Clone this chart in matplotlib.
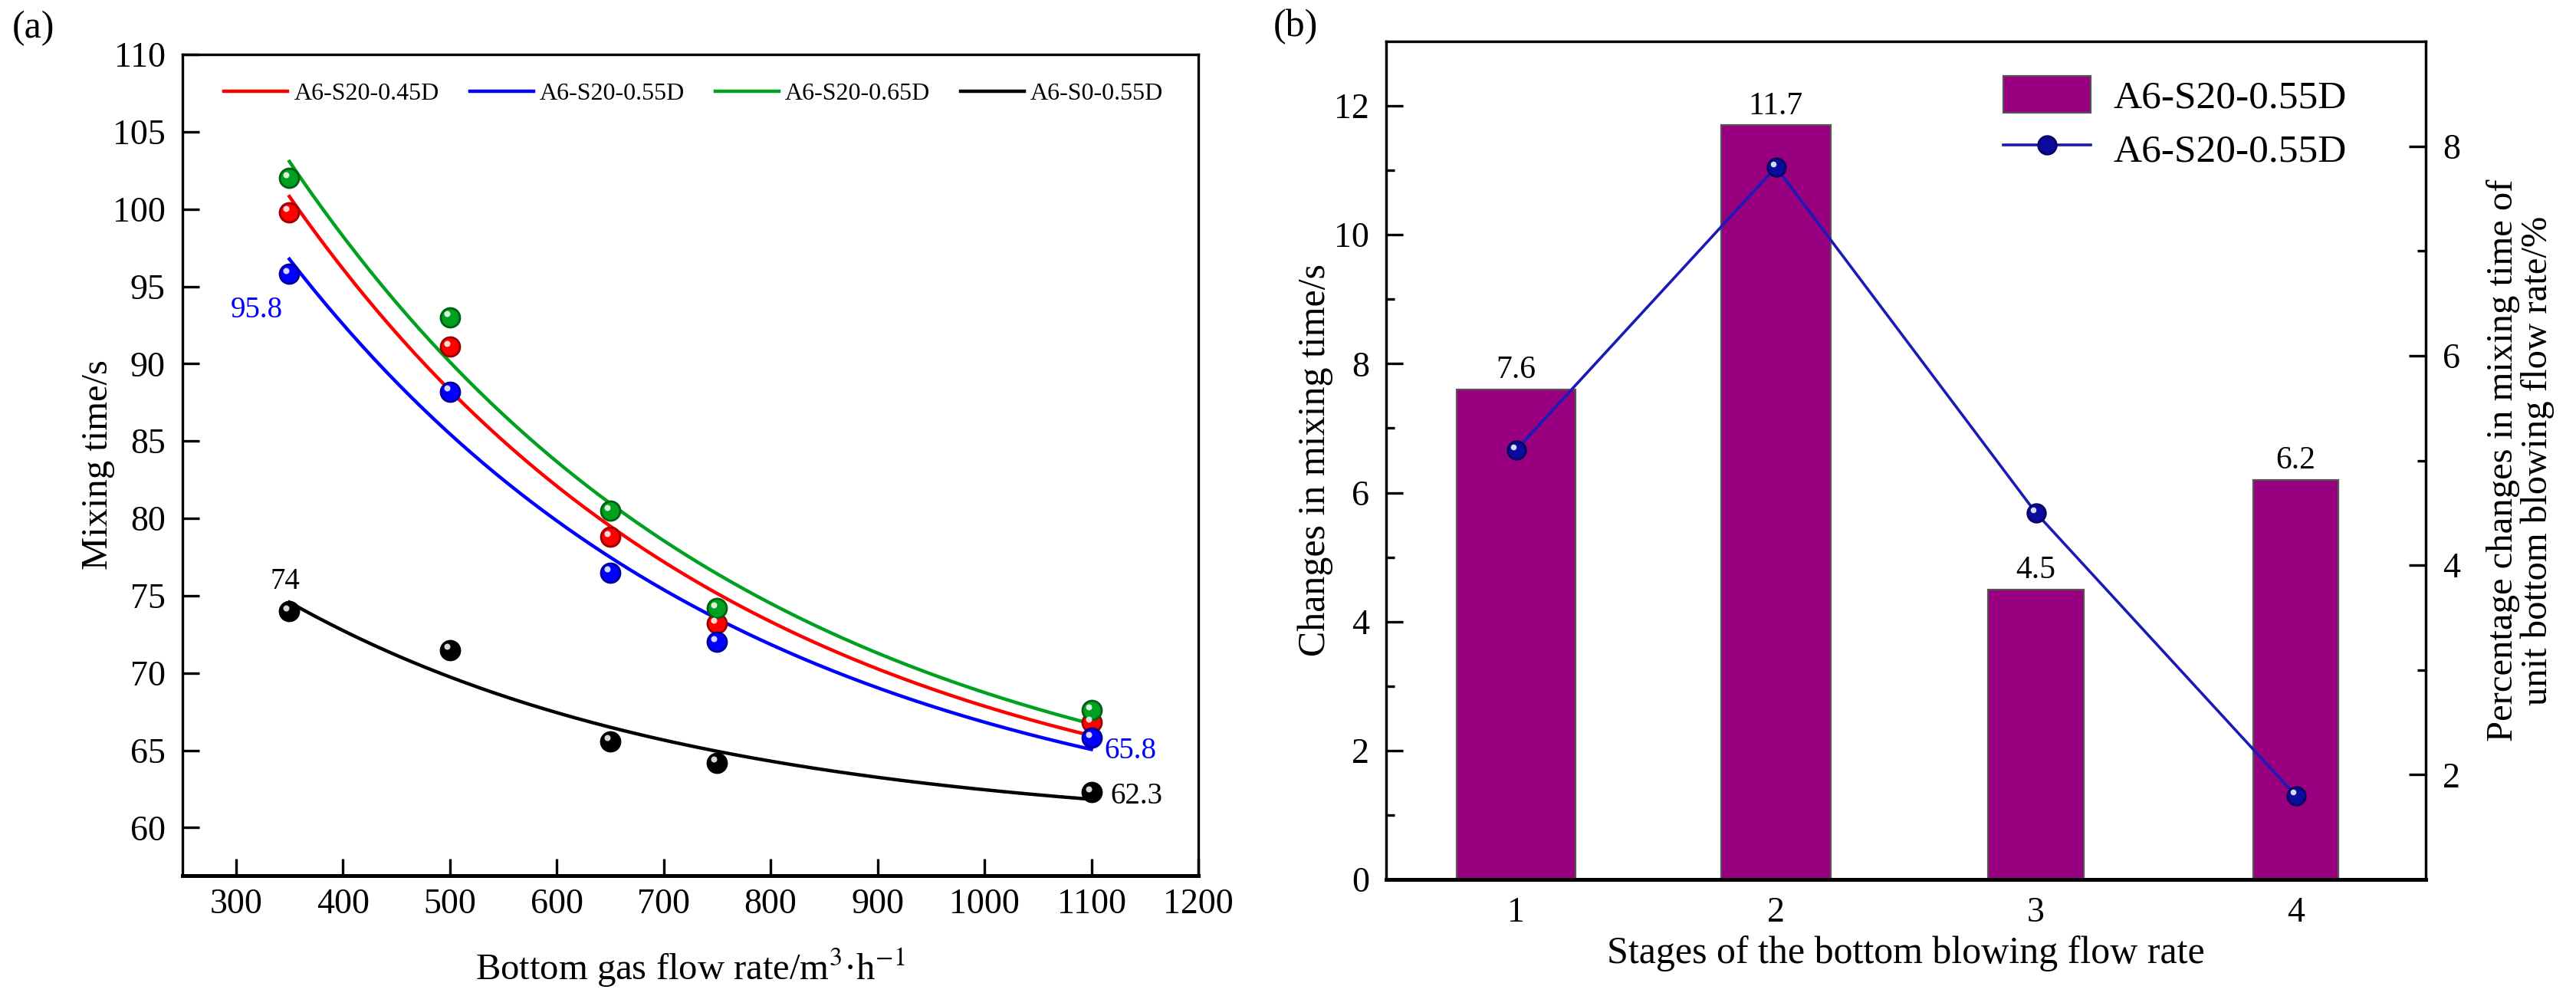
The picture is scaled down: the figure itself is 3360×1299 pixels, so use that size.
import numpy as np
import matplotlib
matplotlib.use("Agg")
import matplotlib.pyplot as plt
import matplotlib.transforms as mtransforms
from matplotlib.lines import Line2D
from matplotlib.patches import Patch

plt.rcParams['font.family'] = ['Liberation Serif', 'DejaVu Serif']
plt.rcParams['mathtext.fontset'] = 'stix'

# (a) mixing time vs bottom gas flow rate
flow_rate = [350, 500, 650, 750, 1100]
series_names = ['A6-S20-0.45D', 'A6-S20-0.55D', 'A6-S20-0.65D', 'A6-S0-0.55D']
mix_045 = [99.8, 91.1, 78.8, 73.2, 66.8]
mix_055 = [95.8, 88.2, 76.5, 72.0, 65.8]
mix_065 = [102.0, 93.0, 80.5, 74.2, 67.6]
mix_s0 = [74.0, 71.5, 65.6, 64.2, 62.3]

# (b) changes per stage
stages = [1, 2, 3, 4]
change_time = [7.6, 11.7, 4.5, 6.2]
change_pct = [5.1, 7.8, 4.5, 1.8]


def exp_fit(x, y):
    # y = y0 + A*exp(-x/t), grid over t, linear lstsq for y0, A
    x = np.asarray(x, float)
    y = np.asarray(y, float)
    best = None
    for t in np.linspace(50, 5000, 2000):
        M = np.column_stack([np.ones_like(x), np.exp(-x / t)])
        coef, *_ = np.linalg.lstsq(M, y, rcond=None)
        sse = np.sum((M @ coef - y) ** 2)
        if best is None or sse < best[0]:
            best = (sse, t, coef)
    _, t, (y0, A) = best
    xs = np.linspace(x.min(), x.max(), 200)
    return xs, y0 + A * np.exp(-xs / t)


def darker(c, f=0.6):
    r, g, b = matplotlib.colors.to_rgb(c)
    return (r * f, g * f, b * f)


def balls(ax, x, y, color, ms, zorder=4):
    ax.plot(x, y, 'o', ms=ms, mfc=color, mec=darker(color), mew=1.0,
            ls='none', zorder=zorder)
    hl = mtransforms.offset_copy(ax.transData, fig=ax.figure,
                                 x=-ms * 0.16, y=ms * 0.18, units='points')
    ax.plot(x, y, 'o', ms=ms * 0.32, mfc='white', mec='none', alpha=0.85,
            ls='none', zorder=zorder + 0.1, transform=hl)


fig = plt.figure(figsize=(16.8, 6.495), dpi=200)
W, H = 3360, 1299

# ---------------- (a) ----------------
ax = fig.add_axes([238 / W, 1 - 1142 / H, (1563 - 238) / W, (1142 - 71) / H])
colors = ['#ff0000', '#0000ff', '#00a020', '#000000']
for ys, c, name in zip([mix_045, mix_055, mix_065, mix_s0], colors, series_names):
    xs, yf = exp_fit(flow_rate, ys)
    ax.plot(xs, yf, color=c, lw=1.6, label=name, zorder=3)
    balls(ax, flow_rate, ys, c, 9)

ax.set_xlim(250, 1200)
ax.set_ylim(56.9, 110)
ax.set_xticks(np.arange(300, 1201, 100))
ax.set_yticks(np.arange(60, 111, 5))
ax.tick_params(direction='in', length=8, width=1.2, labelsize=16.5, pad=8)
ax.tick_params(axis='x', pad=6)
for s in ax.spines.values():
    s.set_linewidth(1.2)
ax.spines['bottom'].set_linewidth(1.8)

ax.set_xlabel('Bottom gas flow rate/m$^{3}$·h$^{-1}$', fontsize=17.5)
ax.set_ylabel('Mixing time/s', fontsize=17.5)
ax.xaxis.set_label_coords(0.5, -0.112)
ax.xaxis.label.set_va('center')
ax.yaxis.set_label_coords(-0.083, 0.5)
ax.yaxis.label.set_va('center')

ax.annotate('95.8', (flow_rate[0], mix_055[0]), xytext=(-3, -17),
            textcoords='offset points', ha='right', va='center',
            color='#0000ff', fontsize=14)
ax.annotate('74', (flow_rate[0], mix_s0[0]), xytext=(-2, 14),
            textcoords='offset points', ha='center', va='center',
            fontsize=14)
ax.annotate('65.8', (flow_rate[-1], mix_055[-1]), xytext=(6, -6),
            textcoords='offset points', ha='left', va='center',
            color='#0000ff', fontsize=14)
ax.annotate('62.3', (flow_rate[-1], mix_s0[-1]), xytext=(9, -2),
            textcoords='offset points', ha='left', va='center',
            fontsize=14)

ax.legend(loc='center left', bbox_to_anchor=(0.041, 1 - 0.048), ncol=4,
          frameon=False, fontsize=11.5, handlelength=2.6,
          handletextpad=0.25, columnspacing=1.25, borderpad=0,
          borderaxespad=0)

fig.text(43 / W, 1 - 37 / H, '(a)', fontsize=18, ha='center', va='center')

# ---------------- (b) ----------------
bx = fig.add_axes([1808 / W, 1 - 1147 / H, (3164 - 1808) / W, (1147 - 54) / H])
bar_color = '#990080'
bar_widths = [0.46, 0.42, 0.37, 0.33]
bx.bar(stages, change_time, width=bar_widths, color=bar_color,
       edgecolor='#555555', lw=0.8, zorder=2)
for xi, v in zip(stages, change_time):
    bx.annotate(f'{v}', (xi, v), xytext=(0, 2), textcoords='offset points',
                ha='center', va='bottom', fontsize=15)
bx.set_xlim(0.5, 4.5)
bx.set_ylim(0, 13)
bx.set_xticks(stages)
bx.set_yticks(np.arange(0, 13, 2))
bx.set_yticks(np.arange(1, 13, 2), minor=True)
bx.tick_params(axis='y', which='major', direction='in', length=8, width=1.2,
               labelsize=16.5, pad=8)
bx.tick_params(axis='y', which='minor', direction='in', length=4, width=1.2)
bx.tick_params(axis='x', length=0, labelsize=16.5, pad=8)
for s in bx.spines.values():
    s.set_linewidth(1.2)
bx.spines['bottom'].set_linewidth(1.8)
bx.set_xlabel('Stages of the bottom blowing flow rate', fontsize=18)
bx.set_ylabel('Changes in mixing time/s', fontsize=18)
bx.xaxis.set_label_coords(0.5, -0.088)
bx.xaxis.label.set_va('center')
bx.yaxis.set_label_coords(-0.068, 0.5)
bx.yaxis.label.set_va('center')

bx2 = bx.twinx()
line_color = '#1a1ab8'
ball_color = '#0b0b9e'
bx2.plot(stages, change_pct, color=line_color, lw=1.3, zorder=3)
balls(bx2, stages, change_pct, ball_color, 8.5)
bx2.set_ylim(1, 9)
bx2.set_yticks([2, 4, 6, 8])
bx2.set_yticks([3, 5, 7], minor=True)
bx2.tick_params(axis='y', which='major', direction='in', length=8, width=1.2,
                labelsize=16.5, pad=8)
bx2.tick_params(axis='y', which='minor', direction='in', length=4, width=1.2)
bx2.set_ylabel('Percentage changes in mixing time of\nunit bottom blowing flow rate/%',
               fontsize=17.5, linespacing=1.0)
bx2.yaxis.set_label_coords(1.091, 0.5)
bx2.yaxis.label.set_va('center')

handles = [Patch(facecolor=bar_color, edgecolor='#555555', lw=0.8),
           Line2D([], [], color=line_color, lw=1.3, marker='o', ms=8.5,
                  mfc=ball_color, mec=darker(ball_color))]
bx2.legend(handles, ['A6-S20-0.55D', 'A6-S20-0.55D'], loc='center left',
           bbox_to_anchor=(0.594, 0.903), frameon=False, fontsize=18.5,
           handlelength=2.2, handleheight=1.06, handletextpad=0.58,
           labelspacing=0.33, borderpad=0, borderaxespad=0)

fig.text(1690 / W, 1 - 35 / H, '(b)', fontsize=18, ha='center', va='center')

fig.savefig('out.png', dpi=200)
